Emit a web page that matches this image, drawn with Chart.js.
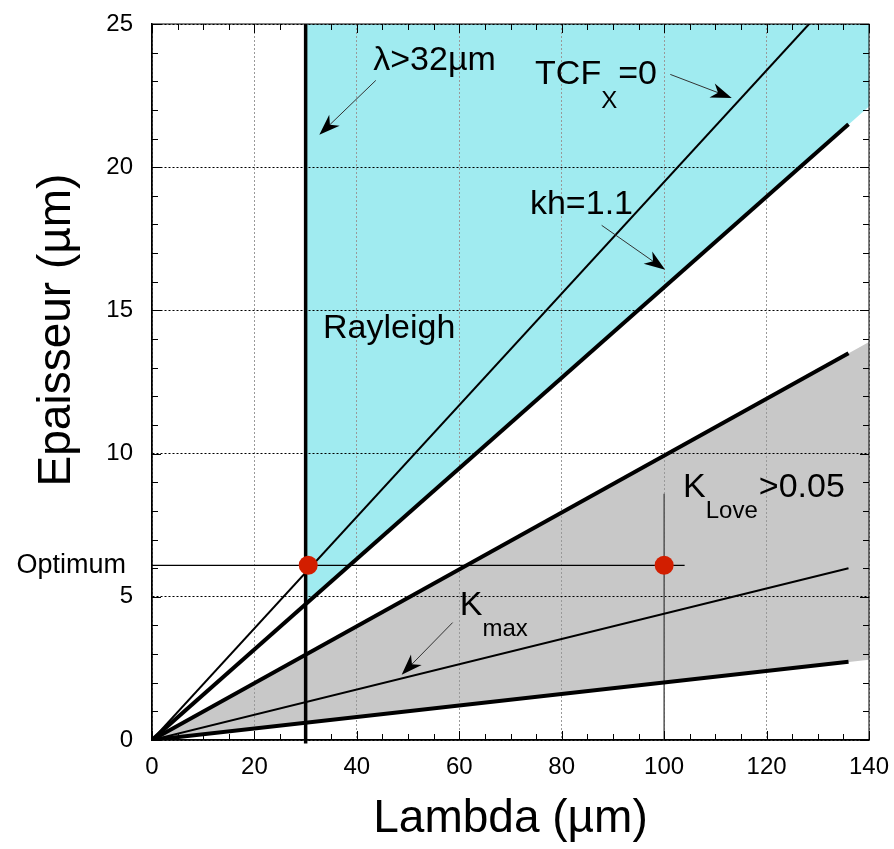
<!DOCTYPE html>
<html lang="fr">
<head>
<meta charset="UTF-8">
<title>Epaisseur / Lambda</title>
<script src="https://cdn.jsdelivr.net/npm/chart.js"></script>
<style>
  html, body { margin: 0; padding: 0; background: #fff; }
  canvas { display: block; }
</style>
</head>
<body>
<canvas id="chart" width="894" height="849"></canvas>
<script>
const FONT = '"Liberation Sans", Arial, Helvetica, sans-serif';

// axis ranges (µm)
const xRange = { min: 0, max: 140, step: 20, minor: 5 };
const yRange = { min: 0, max: 25, step: 5, minor: 1 };

// straight lines from the origin, end points
const tcfZero   = [{x: 0, y: 0}, {x: 128.3, y: 25}];
const kh11      = [{x: 0, y: 0}, {x: 136, y: 21.5}];
const loveUpper = [{x: 0, y: 0}, {x: 136, y: 13.5}];
const kMax      = [{x: 0, y: 0}, {x: 136, y: 6.0}];
const loveLower = [{x: 0, y: 0}, {x: 136, y: 2.73}];

// lambda > 32 µm cut, K_Love cursor, optimum
const lambdaCut   = [{x: 30, y: -0.12}, {x: 30, y: 25}];
const loveCursor  = [{x: 100, y: 0}, {x: 100, y: 8.6}];
const optimumLine = [{x: 0, y: 6.1}, {x: 104, y: 6.1}];
const optimumPts  = [{x: 30.5, y: 6.1}, {x: 100, y: 6.1}];

// shaded zones
const rayleighZone = [{x: 30, y: 4.74}, {x: 140, y: 22.12}, {x: 140, y: 25}, {x: 30, y: 25}];
const loveZone     = [{x: 0, y: 0}, {x: 140, y: 13.9}, {x: 140, y: 2.8}];

// annotations, in data units
const notes = [
  { x: 43.2,  y: 23.38, parts: [['λ>32µm', 34, 0]] },
  { x: 74.8,  y: 22.92, parts: [['TCF', 34, 0], ['X', 24, 24], ['=0', 34, 0]] },
  { x: 73.8,  y: 18.35, parts: [['kh=1.1', 34, 0]] },
  { x: 33.4,  y: 14.05, parts: [['Rayleigh', 34, 0]] },
  { x: 60.1,  y: 4.35,  parts: [['K', 34, 0], ['max', 24, 21]] },
  { x: 103.7, y: 8.47,  parts: [['K', 34, 0], ['Love', 24, 21], ['>0.05', 34, 0]] }
];
const arrows = [
  { from: [43.7, 23.03],  to: [32.67, 21.13] },
  { from: [101.2, 23.24], to: [113.2, 22.42] },
  { from: [87.8, 17.97],  to: [100.2, 16.42] },
  { from: [58.7, 4.1],    to: [48.75, 2.28] }
];

function line(data, width, color) {
  return { data, showLine: true, borderColor: color || '#000', borderWidth: width,
           pointRadius: 0, fill: false, order: 1, borderCapStyle: 'butt' };
}
function zone(data, color) {
  return { data, showLine: true, borderWidth: 0, borderColor: 'transparent',
           backgroundColor: color, pointRadius: 0, fill: 'shape', order: 5 };
}

function drawRuns(ctx, x0, y0, parts) {
  let cx = x0;
  for (const [text, size, dy] of parts) {
    ctx.font = size + 'px ' + FONT;
    ctx.fillText(text, cx, y0 + dy);
    cx += ctx.measureText(text).width + (size < 30 ? 1 : 0);
  }
}

function drawArrow(ctx, x1, y1, x2, y2) {
  const dx = x2 - x1, dy = y2 - y1, len = Math.hypot(dx, dy);
  const ux = dx / len, uy = dy / len, nx = -uy, ny = ux;
  const L = 21, W = 7.5;
  ctx.strokeStyle = '#333';
  ctx.lineWidth = 1;
  ctx.beginPath();
  ctx.moveTo(x1, y1);
  ctx.lineTo(x2 - ux * L * 0.6, y2 - uy * L * 0.6);
  ctx.stroke();
  ctx.fillStyle = '#000';
  ctx.beginPath();
  ctx.moveTo(x2, y2);
  ctx.lineTo(x2 - ux * L + nx * W, y2 - uy * L + ny * W);
  ctx.lineTo(x2 - ux * L * 0.7, y2 - uy * L * 0.7);
  ctx.lineTo(x2 - ux * L - nx * W, y2 - uy * L - ny * W);
  ctx.closePath();
  ctx.fill();
}

const decor = {
  id: 'decor',
  afterDraw(chart) {
    const { ctx, chartArea: a, scales: { x, y } } = chart;
    ctx.save();

    // frame and inward ticks
    ctx.strokeStyle = '#000';
    ctx.lineWidth = 1;
    ctx.strokeRect(a.left, a.top, a.right - a.left, a.bottom - a.top);
    ctx.beginPath();
    for (let v = xRange.min; v <= xRange.max; v += xRange.minor) {
      const p = Math.round(x.getPixelForValue(v)) + 0.5;
      const len = v % xRange.step === 0 ? 9 : 6;
      ctx.moveTo(p, a.bottom); ctx.lineTo(p, a.bottom - len);
      ctx.moveTo(p, a.top); ctx.lineTo(p, a.top + len);
    }
    for (let v = yRange.min; v <= yRange.max; v += yRange.minor) {
      const p = Math.round(y.getPixelForValue(v)) + 0.5;
      const len = v % yRange.step === 0 ? 9 : 6;
      ctx.moveTo(a.left, p); ctx.lineTo(a.left + len, p);
      ctx.moveTo(a.right, p); ctx.lineTo(a.right - len, p);
    }
    ctx.stroke();

    // arrows
    for (const ar of arrows) {
      drawArrow(ctx, x.getPixelForValue(ar.from[0]), y.getPixelForValue(ar.from[1]),
                x.getPixelForValue(ar.to[0]), y.getPixelForValue(ar.to[1]));
    }

    // labels
    ctx.fillStyle = '#000';
    ctx.textBaseline = 'alphabetic';
    ctx.textAlign = 'left';
    for (const n of notes) {
      drawRuns(ctx, x.getPixelForValue(n.x), y.getPixelForValue(n.y), n.parts);
    }

    // "Optimum" beside the y axis
    ctx.font = '27px ' + FONT;
    ctx.textAlign = 'right';
    ctx.fillText('Optimum', a.left - 26, y.getPixelForValue(optimumPts[0].y) + 8);

    // y axis title
    ctx.font = '46px ' + FONT;
    ctx.textAlign = 'center';
    ctx.translate(70, 330);
    ctx.rotate(-Math.PI / 2);
    ctx.fillText('Epaisseur (µm)', 0, 0);
    ctx.restore();
  }
};

new Chart(document.getElementById('chart'), {
  type: 'scatter',
  data: {
    datasets: [
      { data: optimumPts, pointRadius: 9.5, pointHoverRadius: 9.5, pointBackgroundColor: '#d21e00',
        pointBorderWidth: 0, showLine: false, order: 0 },
      Object.assign(line(lambdaCut, 3.5), { clip: { left: 0, top: 0, right: 0, bottom: 4 } }),
      line(tcfZero, 2),
      line(kh11, 4),
      line(loveUpper, 4),
      line(kMax, 2),
      line(loveLower, 4),
      line(loveCursor, 1.5, '#555'),
      line(optimumLine, 1.2),
      zone(rayleighZone, '#a0ebf0'),
      zone(loveZone, '#c8c8c8')
    ]
  },
  options: {
    responsive: false,
    animation: false,
    events: [],
    layout: { padding: { top: 24, right: 25, left: 0, bottom: 0 } },
    plugins: {
      legend: { display: false },
      tooltip: { enabled: false },
      filler: { drawTime: 'beforeDraw' }
    },
    scales: {
      x: {
        type: 'linear', min: xRange.min, max: xRange.max,
        afterFit: s => { s.height = 109; s.paddingLeft = 0; s.paddingRight = 0; },
        ticks: { stepSize: xRange.step, padding: 13, color: '#000', font: { family: FONT, size: 24 } },
        grid: { color: '#999', lineWidth: 1, drawTicks: false },
        border: { display: true, color: '#000', width: 1.5, dash: [2, 2] },
        title: { display: true, text: 'Lambda (µm)', color: '#000', padding: { top: 0, bottom: 2 },
                 font: { family: FONT, size: 46 } }
      },
      y: {
        type: 'linear', min: yRange.min, max: yRange.max,
        afterFit: s => { s.width = 152; s.paddingTop = 0; s.paddingBottom = 0; },
        ticks: { stepSize: yRange.step, padding: 19, color: '#000', font: { family: FONT, size: 24 } },
        grid: { color: '#000', lineWidth: 1, drawTicks: false },
        border: { display: true, color: '#000', width: 1.5, dash: [2, 2] }
      }
    }
  },
  plugins: [decor]
});
</script>
</body>
</html>
